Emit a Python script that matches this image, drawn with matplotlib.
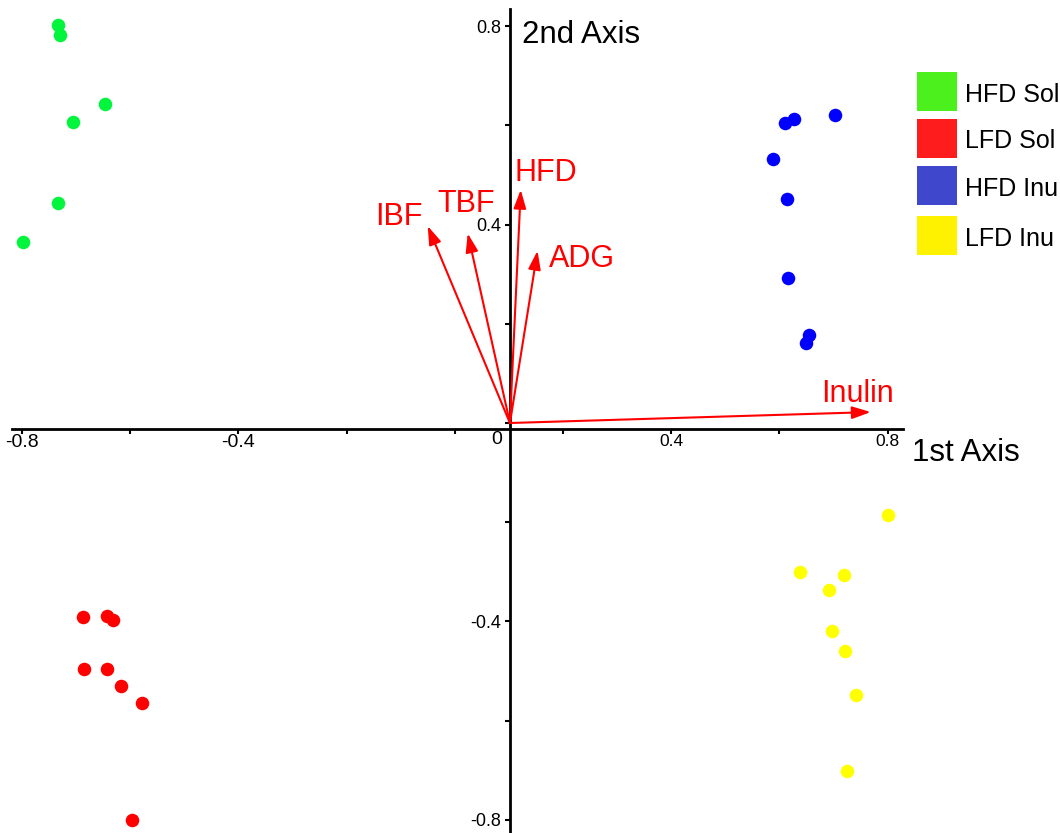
import matplotlib
matplotlib.use('Agg')
import matplotlib.pyplot as plt
from matplotlib.patches import Rectangle

plt.rcParams['font.family'] = ['Liberation Sans', 'DejaVu Sans']
plt.rcParams['axes.unicode_minus'] = False

# ---------------- data ----------------
groups = ['HFD Sol', 'LFD Sol', 'HFD Inu', 'LFD Inu']

hfd_sol_x = [-0.734, -0.730, -0.646, -0.706, -0.734, -0.798]
hfd_sol_y = [0.802, 0.782, 0.642, 0.607, 0.444, 0.364]

lfd_sol_x = [-0.688, -0.643, -0.631, -0.685, -0.643, -0.617, -0.579, -0.597]
lfd_sol_y = [-0.391, -0.388, -0.396, -0.496, -0.496, -0.529, -0.564, -0.800]

hfd_inu_x = [0.702, 0.627, 0.610, 0.588, 0.614, 0.616, 0.654, 0.650]
hfd_inu_y = [0.621, 0.612, 0.604, 0.533, 0.451, 0.292, 0.177, 0.162]

lfd_inu_x = [0.800, 0.638, 0.719, 0.691, 0.697, 0.721, 0.742, 0.725]
lfd_inu_y = [-0.185, -0.300, -0.306, -0.337, -0.419, -0.459, -0.548, -0.702]

variables = ['IBF', 'TBF', 'HFD', 'ADG', 'Inulin']
var_dx = [-0.152, -0.078, 0.020, 0.051, 0.667]
var_dy = [0.397, 0.382, 0.470, 0.347, 0.022]

tick_values = [-0.8, -0.6, -0.4, -0.2, 0.0, 0.2, 0.4, 0.6, 0.8]
tick_labels = ['-0.8', '', '-0.4', '', '', '', '0.4', '', '0.8']

# ---------------- styles / layout ----------------
point_colors = ['#00f53c', '#ff0000', '#0000ff', '#ffff00']
legend_colors = ['#4cf01c', '#ff1c1c', '#3f48cc', '#fff200']
arrow_color = '#ff0000'
label_offsets = [(-37.9, 0.5), (-21.9, 15.1), (-4.8, 6.0), (8.4, -12.0), (-35.8, 7.6)]

W, H = 1060, 833
AXIS_X = 0.102
AXIS_Y = -0.012

fig = plt.figure(figsize=(W / 100, H / 100), dpi=100)
ax = fig.add_axes([0, 0, 1, 1])
ax.set_xlim(-0.8406, 1.1188)
ax.set_ylim(-0.8262, 0.8524)

# spines as crossing axes
for s in ('top', 'right'):
    ax.spines[s].set_visible(False)
ax.spines['left'].set_position(('data', AXIS_X))
ax.spines['bottom'].set_position(('data', AXIS_Y))
ax.spines['left'].set_bounds(-0.83, 0.834)
ax.spines['bottom'].set_bounds(-0.819, 0.829)
for s in ('left', 'bottom'):
    ax.spines[s].set_linewidth(2)
    ax.spines[s].set_color('black')

ax.set_xticks(tick_values)
ax.set_xticklabels(tick_labels)
ax.set_yticks(tick_values)
ax.set_yticklabels(tick_labels)
ax.tick_params(axis='x', direction='out', length=3.6, width=1.5, pad=0, labelsize=12.5)
ax.tick_params(axis='y', direction='out', length=3.3, width=1.5, pad=2.9, labelsize=13)
for lab in ax.get_xticklabels():
    if lab.get_text().startswith('-'):
        lab.set_fontsize(14)

ax.annotate('0', xy=(AXIS_X, AXIS_Y), xytext=(-9.4, -1.5), textcoords='offset points',
            ha='center', va='top', fontsize=14, color='black')

# points
series = [(hfd_sol_x, hfd_sol_y), (lfd_sol_x, lfd_sol_y),
          (hfd_inu_x, hfd_inu_y), (lfd_inu_x, lfd_inu_y)]
for (xs, ys), c in zip(series, point_colors):
    ax.scatter(xs, ys, s=95, color=c, linewidths=0, zorder=3, clip_on=False)

# arrows
for name, dx, dy, off in zip(variables, var_dx, var_dy, label_offsets):
    tip = (AXIS_X + dx, 0.0 + dy)
    ax.annotate('', xy=tip, xytext=(AXIS_X, 0.0),
                arrowprops=dict(arrowstyle='-|>,head_length=0.75,head_width=0.25',
                                color=arrow_color, lw=1.5, shrinkA=0, shrinkB=0,
                                mutation_scale=15), zorder=4)
    ax.annotate(name, xy=tip, xytext=off, textcoords='offset points',
                ha='left', va='baseline', fontsize=22, color=arrow_color)

# axis titles
fig.text(522 / W, 1 - 43.3 / H, '2nd Axis', fontsize=22.5, ha='left', va='baseline')
fig.text(911.7 / W, 1 - 460.7 / H, '1st Axis', fontsize=22.5, ha='left', va='baseline')

# legend
leg_tops = [72, 119, 166, 216]
for name, c, top in zip(groups, legend_colors, leg_tops):
    fig.add_artist(Rectangle((917 / W, 1 - (top + 39) / H), 40 / W, 39 / H,
                             transform=fig.transFigure, facecolor=c, edgecolor='none'))
    fig.text(965 / W, 1 - (top + 19.5 + 10) / H, name, fontsize=18,
             ha='left', va='baseline')

fig.savefig('out.png', dpi=100, facecolor='white')
